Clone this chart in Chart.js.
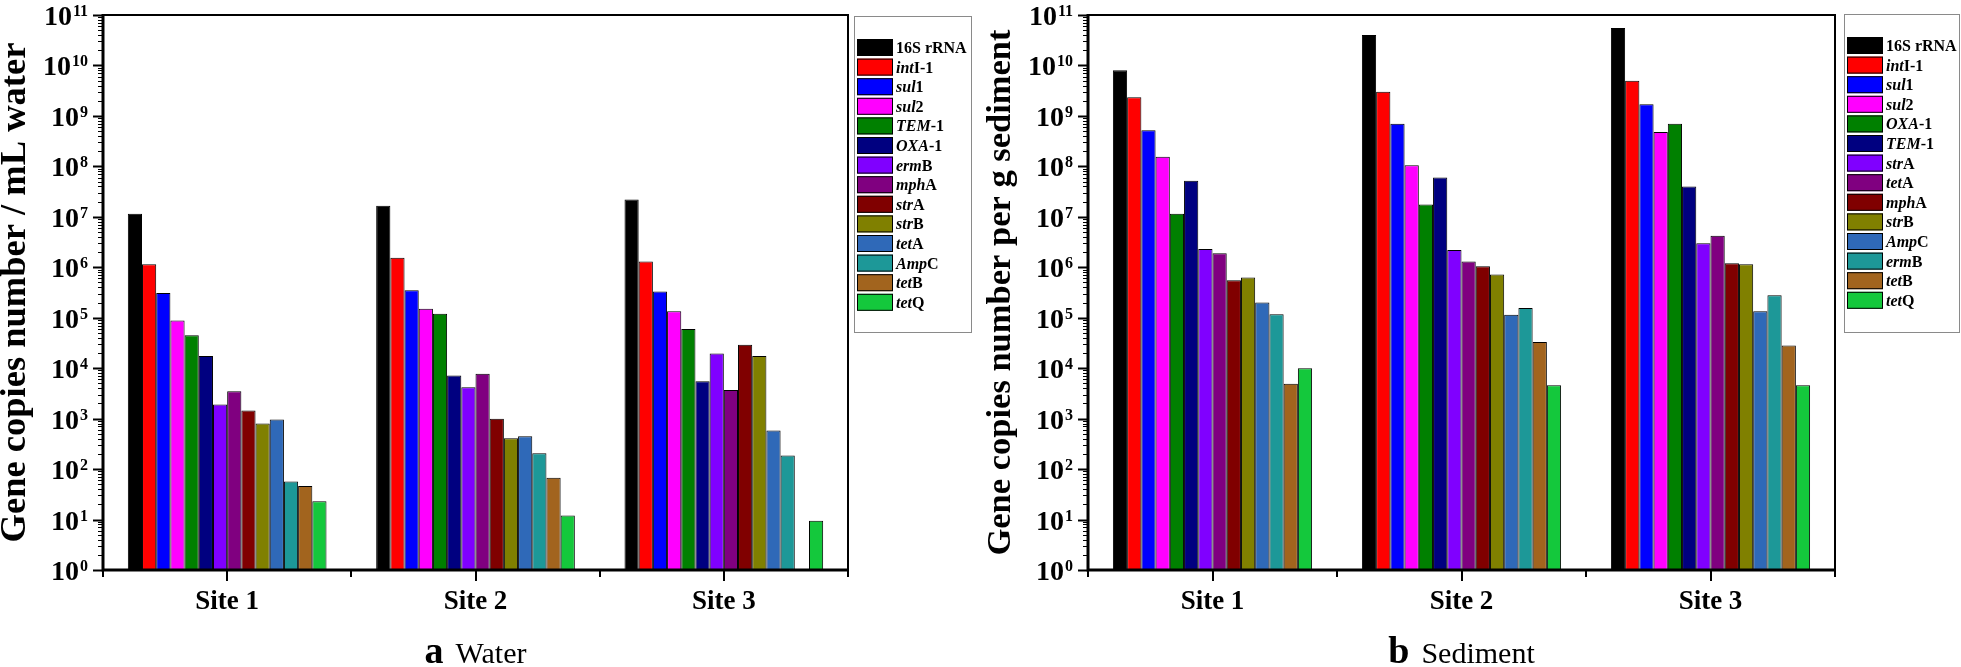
<!DOCTYPE html>
<html><head><meta charset="utf-8">
<script src="https://cdn.jsdelivr.net/npm/chart.js@4/dist/chart.umd.min.js"></script>
<style>
html,body{margin:0;padding:0;background:#fff;width:1961px;height:667px;overflow:hidden}
#wrapA{position:absolute;left:0;top:0;width:980px;height:667px}
#wrapB{position:absolute;left:980px;top:0;width:981px;height:667px}
canvas{display:block}
</style></head><body>
<div id="wrapA"><canvas id="cA" width="980" height="667"></canvas></div>
<div id="wrapB"><canvas id="cB" width="981" height="667"></canvas></div>
<script>
// ---------------- data ----------------
const sites = ['Site 1', 'Site 2', 'Site 3'];
const decadeExponents = [0, 1, 2, 3, 4, 5, 6, 7, 8, 9, 10, 11];

// panel a (water): gene names split into italic part + upright part
const waterGeneItalic = ['', 'int', 'sul', 'sul', 'TEM', 'OXA', 'erm', 'mph', 'str', 'str', 'tet', 'Amp', 'tet', 'tet'];
const waterGeneSuffix = ['16S rRNA', 'I-1', '1', '2', '-1', '-1', 'B', 'A', 'A', 'B', 'A', 'C', 'B', 'Q'];
const waterSite1 = [1.15e7, 1.15e6, 3.1e5, 8.8e4, 4.5e4, 1.75e4, 1.9e3, 3.5e3, 1.45e3, 8.0e2, 9.6e2, 57, 46, 23];
const waterSite2 = [1.65e7, 1.55e6, 3.5e5, 1.5e5, 1.2e5, 7.2e3, 4.2e3, 7.8e3, 1.0e3, 4.1e2, 4.5e2, 2.05e2, 67, 12];
const waterSite3 = [2.2e7, 1.3e6, 3.3e5, 1.35e5, 6.0e4, 5.5e3, 1.95e4, 3.7e3, 2.9e4, 1.75e4, 5.8e2, 1.85e2, null, 9.5];

// panel b (sediment)
const sedimentGeneItalic = ['', 'int', 'sul', 'sul', 'OXA', 'TEM', 'str', 'tet', 'mph', 'str', 'Amp', 'erm', 'tet', 'tet'];
const sedimentGeneSuffix = ['16S rRNA', 'I-1', '1', '2', '-1', '-1', 'A', 'A', 'A', 'B', 'C', 'B', 'B', 'Q'];
const sedimentSite1 = [8.0e9, 2.35e9, 5.2e8, 1.55e8, 1.15e7, 5.2e7, 2.3e6, 1.9e6, 5.5e5, 6.3e5, 2.0e5, 1.17e5, 4.9e3, 1.0e4];
const sedimentSite2 = [4.0e10, 3.0e9, 7.0e8, 1.05e8, 1.75e7, 6.0e7, 2.2e6, 1.3e6, 1.05e6, 7.2e5, 1.15e5, 1.55e5, 3.3e4, 4.6e3];
const sedimentSite3 = [5.5e10, 5.0e9, 1.7e9, 4.8e8, 7.0e8, 4.0e7, 3.0e6, 4.2e6, 1.2e6, 1.15e6, 1.35e5, 2.8e5, 2.8e4, 4.6e3];

// ---------------- styles ----------------
const waterColors = ['#000000', '#FF0000', '#0000FF', '#FF00FF', '#008000', '#000080', '#8000FF', '#800080',
  '#800000', '#808000', '#2F69B8', '#1D9898', '#A2641E', '#14C83C'];
const sedimentColors = ['#000000', '#FF0000', '#0000FF', '#FF00FF', '#008000', '#000080', '#8000FF', '#800080',
  '#800000', '#808000', '#2F69B8', '#1D9898', '#A2641E', '#14C83C'];
const FONT = '"Liberation Serif", "Times New Roman", Times, serif';

function buildDatasets(italic, suffix, s1, s2, s3, colors) {
  return italic.map((it, i) => ({
    label: it + suffix[i],
    data: [s1[i], s2[i], s3[i]],
    backgroundColor: colors[i],
    borderColor: '#000',
    borderWidth: 1,
    borderSkipped: 'start',
    categoryPercentage: 0.8,
    barPercentage: 1.0
  }));
}

function makeDecor(cfg) {
  return {
    id: 'decor',
    afterDraw(chart) {
      const { ctx, chartArea: a, scales: { x, y } } = chart;
      ctx.save();
      ctx.fillStyle = '#000';
      ctx.strokeStyle = '#000';
      // frame (top and right)
      ctx.lineWidth = 2;
      ctx.beginPath();
      ctx.moveTo(a.left, a.top); ctx.lineTo(a.right, a.top); ctx.lineTo(a.right, a.bottom);
      ctx.stroke();
      // axes (left and bottom)
      ctx.lineWidth = 3;
      ctx.beginPath();
      ctx.moveTo(a.left, a.top - 1); ctx.lineTo(a.left, a.bottom);
      ctx.lineTo(a.right + 1, a.bottom);
      ctx.stroke();
      // y ticks (major + minor)
      decadeExponents.forEach(p => {
        for (let m = 1; m <= 9; m++) {
          const v = m * Math.pow(10, p);
          if (v > y.max * 1.0001) break;
          const py = Math.round(y.getPixelForValue(v)) + 0.5;
          const len = m === 1 ? 10 : 5;
          ctx.lineWidth = m === 1 ? 2 : 1;
          ctx.beginPath(); ctx.moveTo(a.left - len, py); ctx.lineTo(a.left, py); ctx.stroke();
        }
      });
      // y tick labels 10^n
      decadeExponents.forEach(p => {
        const py = y.getPixelForValue(Math.pow(10, p));
        const right = a.left - 15;
        ctx.font = 'bold 16px ' + FONT;
        const es = String(p);
        const ew = ctx.measureText(es).width;
        ctx.textAlign = 'left'; ctx.textBaseline = 'alphabetic';
        ctx.fillText(es, right - ew, py + 1);
        ctx.font = 'bold 28px ' + FONT;
        ctx.textAlign = 'right';
        ctx.fillText('10', right - ew - 1, py + 10);
      });
      // x ticks
      ctx.lineWidth = 2;
      for (let i = 0; i < sites.length; i++) {
        const cx = Math.round(x.getPixelForValue(i));
        ctx.beginPath(); ctx.moveTo(cx, a.bottom); ctx.lineTo(cx, a.bottom + 11); ctx.stroke();
      }
      for (let k = 0; k <= sites.length; k++) {
        const bx = Math.round(a.left + k * (a.right - a.left) / sites.length);
        ctx.beginPath(); ctx.moveTo(bx, a.bottom); ctx.lineTo(bx, a.bottom + 7); ctx.stroke();
      }
      // y-axis title
      ctx.save();
      ctx.translate(cfg.titleX, (a.top + a.bottom) / 2);
      ctx.rotate(-Math.PI / 2);
      ctx.font = 'bold ' + cfg.titleSize + 'px ' + FONT;
      ctx.textAlign = 'center'; ctx.textBaseline = 'alphabetic';
      ctx.fillText(cfg.yTitle, 0, 0);
      ctx.restore();
      // caption
      ctx.textBaseline = 'alphabetic'; ctx.textAlign = 'left';
      ctx.font = 'bold 38px ' + FONT;
      const lw = ctx.measureText(cfg.capLetter).width;
      ctx.font = 'normal 400 30px ' + FONT;
      const cw = ctx.measureText(cfg.capText).width;
      const gap = 12;
      const cx0 = (a.left + a.right) / 2 - (lw + gap + cw) / 2;
      ctx.font = 'bold 38px ' + FONT;
      ctx.fillText(cfg.capLetter, cx0, 663);
      ctx.font = 'normal 400 30px ' + FONT;
      ctx.fillText(cfg.capText, cx0 + lw + gap, 663);
      // legend
      const L = cfg.legend;
      ctx.lineWidth = 1;
      ctx.strokeStyle = '#8a8a8a';
      ctx.strokeRect(L.x + 0.5, L.y + 0.5, L.w, L.h);
      chart.data.datasets.forEach((ds, i) => {
        const sy = L.y + 23 + i * 19.6;
        ctx.fillStyle = ds.backgroundColor;
        ctx.fillRect(L.x + 3, sy, 36, 17);
        ctx.strokeStyle = '#000';
        ctx.strokeRect(L.x + 3.5, sy + 0.5, 35, 16);
        ctx.fillStyle = '#000';
        let tx = L.x + 42;
        const it = cfg.italic[i], su = cfg.suffix[i];
        if (it) {
          ctx.font = 'italic bold 16px ' + FONT;
          ctx.fillText(it, tx, sy + 14);
          tx += ctx.measureText(it).width;
        }
        ctx.font = 'bold 16px ' + FONT;
        ctx.fillText(su, tx, sy + 14);
      });
      ctx.restore();
    }
  };
}

function makeChart(canvasId, datasets, yAxisWidth, padRight, decorCfg) {
  return new Chart(document.getElementById(canvasId), {
    type: 'bar',
    data: { labels: sites, datasets },
    options: {
      responsive: false,
      animation: false,
      devicePixelRatio: 1,
      layout: { padding: { top: 15, right: padRight, left: 0, bottom: 0 } },
      plugins: { legend: { display: false }, tooltip: { enabled: false } },
      scales: {
        x: {
          type: 'category',
          grid: { display: false, drawTicks: false },
          border: { display: false },
          ticks: { color: '#000', font: { family: FONT, size: 27, weight: 'bold' }, padding: 16, maxRotation: 0, autoSkip: false },
          afterFit(s) { s.height = 97; }
        },
        y: {
          type: 'logarithmic',
          min: 1, max: 1e11,
          grid: { display: false, drawTicks: false },
          border: { display: false },
          ticks: { display: false },
          afterFit(s) { s.width = yAxisWidth; }
        }
      }
    },
    plugins: [makeDecor(decorCfg)]
  });
}

makeChart('cA',
  buildDatasets(waterGeneItalic, waterGeneSuffix, waterSite1, waterSite2, waterSite3, waterColors),
  103, 132,
  { yTitle: 'Gene copies number / mL water', titleX: 25, titleSize: 36.5, capLetter: 'a', capText: 'Water',
    italic: waterGeneItalic, suffix: waterGeneSuffix, legend: { x: 854, y: 16, w: 117, h: 316 } });

makeChart('cB',
  buildDatasets(sedimentGeneItalic, sedimentGeneSuffix, sedimentSite1, sedimentSite2, sedimentSite3, sedimentColors),
  108, 126,
  { yTitle: 'Gene copies number per g sediment', titleX: 30, titleSize: 34.5, capLetter: 'b', capText: 'Sediment',
    italic: sedimentGeneItalic, suffix: sedimentGeneSuffix, legend: { x: 864, y: 14, w: 115, h: 318 } });
</script>
</body></html>
